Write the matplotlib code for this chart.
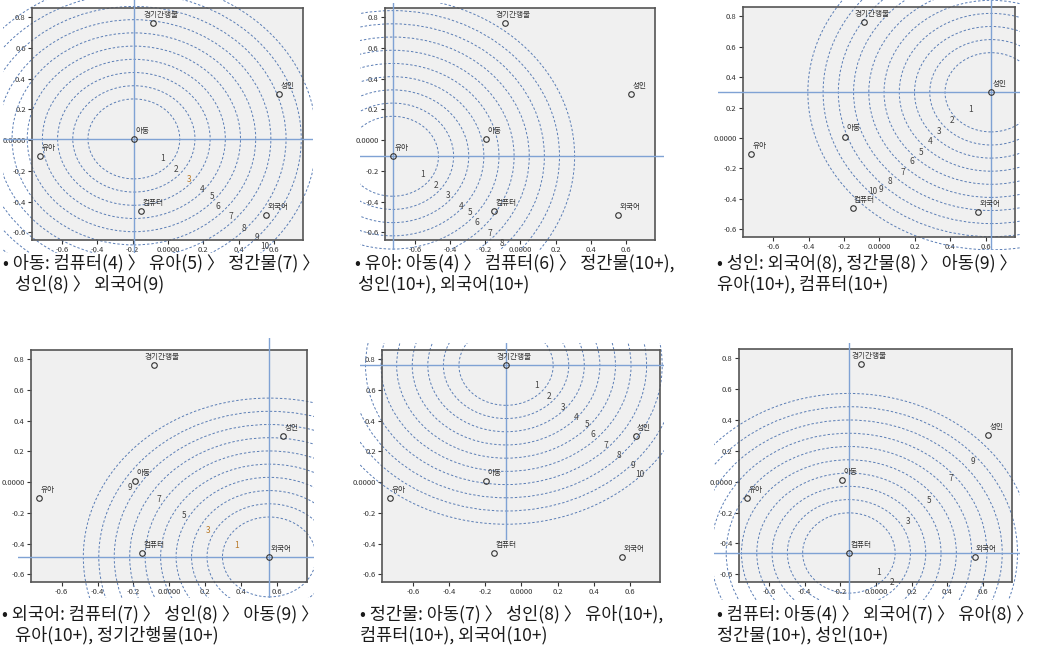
import numpy as np
import matplotlib.pyplot as plt
from matplotlib.patches import Ellipse, Rectangle

plt.rcParams['font.family'] = ['Noto Sans CJK KR', 'DejaVu Sans']

W, H = 1039, 658

# 자극점 좌표 (모든 패널 공통)
names = ['경기간행물', '성인', '아동', '유아', '컴퓨터', '외국어']
pt_x = [-0.085, 0.630, -0.193, -0.726, -0.152, 0.555]
pt_y = [0.760, 0.300, 0.008, -0.105, -0.462, -0.487]

# 이상점 주변 등고선 반지름
radii = [0.26, 0.346, 0.432, 0.518, 0.604, 0.69, 0.776, 0.862, 0.948, 1.034]

# 패널별 중심 (이상점)
centers = ['아동', '유아', '성인', '외국어', '경기간행물', '컴퓨터']

# 패널별 거리 숫자 라벨
num_text = [
    ['1', '2', '3', '4', '5', '6', '7', '8', '9', '10'],
    ['1', '2', '3', '4', '5', '6', '7', '8'],
    ['1', '2', '3', '4', '5', '6', '7', '8', '9', '10'],
    ['1', '3', '5', '7', '9'],
    ['1', '2', '3', '4', '5', '6', '7', '8', '9', '10'],
    ['1', '2', '3', '5', '7', '9'],
]
num_x = [
    [-0.028, 0.047, 0.118, 0.193, 0.250, 0.283, 0.356, 0.432, 0.503, 0.548],
    [-0.555, -0.482, -0.411, -0.336, -0.284, -0.247, -0.172, -0.103],
    [0.514, 0.411, 0.336, 0.286, 0.234, 0.183, 0.131, 0.060, 0.009, -0.040],
    [0.374, 0.217, 0.083, -0.061, -0.219],
    [0.081, 0.155, 0.228, 0.302, 0.363, 0.394, 0.468, 0.541, 0.615, 0.652],
    [0.013, 0.088, 0.181, 0.299, 0.424, 0.546],
]
num_y = [
    [-0.117, -0.189, -0.258, -0.323, -0.367, -0.432, -0.499, -0.573, -0.633, -0.692],
    [-0.225, -0.297, -0.361, -0.431, -0.473, -0.537, -0.607, -0.675],
    [0.184, 0.114, 0.042, -0.024, -0.096, -0.155, -0.225, -0.287, -0.341, -0.352],
    [-0.410, -0.315, -0.215, -0.113, -0.034],
    [0.628, 0.558, 0.487, 0.418, 0.374, 0.310, 0.238, 0.173, 0.108, 0.050],
    [-0.591, -0.654, -0.255, -0.119, 0.019, 0.128],
]

captions = [
    ['• 아동: 컴퓨터(4) 〉 유아(5) 〉 정간물(7) 〉', '성인(8) 〉 외국어(9)'],
    ['• 유아: 아동(4) 〉 컴퓨터(6) 〉 정간물(10+),', '성인(10+), 외국어(10+)'],
    ['• 성인: 외국어(8), 정간물(8) 〉 아동(9) 〉', '유아(10+), 컴퓨터(10+)'],
    ['• 외국어: 컴퓨터(7) 〉 성인(8) 〉 아동(9) 〉', '유아(10+), 정기간행물(10+)'],
    ['• 정간물: 아동(7) 〉 성인(8) 〉 유아(10+),', '컴퓨터(10+), 외국어(10+)'],
    ['• 컴퓨터: 아동(4) 〉 외국어(7) 〉 유아(8) 〉', '정간물(10+), 성인(10+)'],
]

ticks = [-0.6, -0.4, -0.2, 0.0, 0.2, 0.4, 0.6, 0.8]
tick_labels = ['-0.6', '-0.4', '-0.2', '0.0000', '0.2', '0.4', '0.6', '0.8']

# 레이아웃 (픽셀, 좌상단 기준)
ax_box = [(32, 8, 303, 240), (385, 8, 655, 240), (743, 7, 1015, 237),
          (31, 350, 307, 582), (382, 350, 660, 582), (739, 349, 1012, 582)]
crop_box = [(3, 0, 313, 253), (360, 3, 664, 250), (718, 0, 1020, 250),
            (18, 338, 314, 598), (360, 343, 664, 592), (714, 343, 1020, 600)]
cap_pos = [((3, 263), (15, 284)), ((355, 263), (358, 284)), ((717, 263), (717, 284)),
           ((2, 614), (15, 635)), ((360, 614), (360, 635)), ((717, 614), (717, 635))]

fig = plt.figure(figsize=(W / 100, H / 100), dpi=100)

circ_col = '#5a7db5'
line_col = '#7fa2d4'

for i in range(6):
    x0, y0, x1, y1 = ax_box[i]
    ax = fig.add_axes([x0 / W, 1 - y1 / H, (x1 - x0) / W, (y1 - y0) / H])
    ax.set_facecolor('#f0f0f0')
    ax.set_xlim(-0.77, 0.765)
    ax.set_ylim(-0.65, 0.86)

    c0, r0, c1, r1 = crop_box[i]
    clip = Rectangle((c0 / W, 1 - r1 / H), (c1 - c0) / W, (r1 - r0) / H,
                     transform=fig.transFigure)

    k = names.index(centers[i])
    cx, cy = pt_x[k], pt_y[k]

    for r in radii:
        e = Ellipse((cx, cy), 2 * r, 2 * r, fill=False, edgecolor=circ_col,
                    lw=0.7, linestyle=(0, (2.5, 2)), zorder=2)
        ax.add_patch(e)
        e.set_clip_path(clip)

    ybot = -0.37 if i == 4 else -3
    lv, = ax.plot([cx, cx], [ybot, 3], color=line_col, lw=1.0, zorder=3)
    lh, = ax.plot([-3, 3], [cy, cy], color=line_col, lw=1.0, zorder=3)
    lv.set_clip_path(clip)
    lh.set_clip_path(clip)

    ax.plot(pt_x, pt_y, 'o', ms=4, mfc='none', mec='#333333', mew=0.8, zorder=5)
    for n, xx, yy in zip(names, pt_x, pt_y):
        dx = -7 if n == '경기간행물' else 1
        ax.annotate(n, (xx, yy), xytext=(dx, 6), textcoords='offset points',
                    ha='left', va='center', fontsize=5.5, color='#333333', zorder=6)

    for j, (t, xx, yy) in enumerate(zip(num_text[i], num_x[i], num_y[i])):
        col = '#b87a2a' if (i == 3 and j < 2) or (i == 0 and j == 2) else '#444444'
        ax.text(xx, yy, t, fontsize=6, color=col, ha='center', va='center', zorder=6)

    ax.set_xticks(ticks[:-1])
    ax.set_xticklabels(tick_labels[:-1])
    ax.set_yticks(ticks)
    ax.set_yticklabels(tick_labels)
    ax.tick_params(labelsize=5.5, length=3, width=0.8, pad=1.5, colors='#333333')
    for s in ax.spines.values():
        s.set_color('#555555')
        s.set_linewidth(1.2)

    for line, (tx, ty) in zip(captions[i], cap_pos[i]):
        fig.text(tx / W, 1 - ty / H, line, fontsize=12.6, ha='left', va='center',
                 color='#1a1a1a')

fig.savefig('out.png', dpi=100)
